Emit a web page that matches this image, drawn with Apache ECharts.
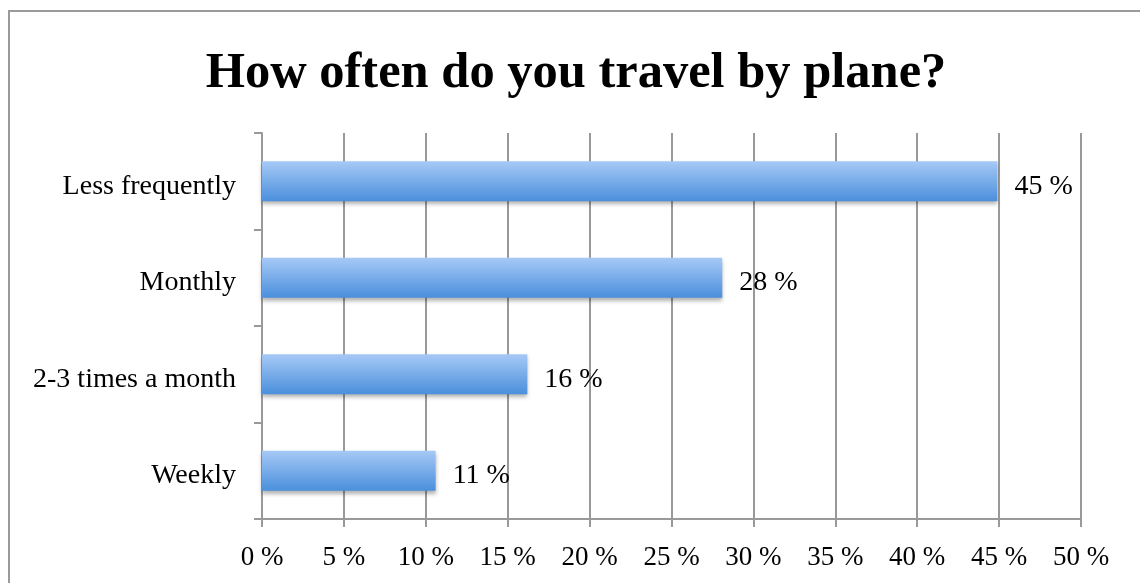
<!DOCTYPE html>
<html>
<head>
<meta charset="utf-8">
<script src="https://cdn.jsdelivr.net/npm/echarts@6/dist/echarts.min.js"></script>
<style>
html,body{margin:0;padding:0;background:#fff;}
#chart{width:1140px;height:583px;}
</style>
</head>
<body>
<div id="chart"></div>
<script>
var categories = ['Less frequently', 'Monthly', '2-3 times a month', 'Weekly'];
var values = [44.9, 28.1, 16.2, 10.6];
var xTicks = [0, 5, 10, 15, 20, 25, 30, 35, 40, 45, 50];
var titleText = 'How often do you travel by plane?';

var chart = echarts.init(document.getElementById('chart'));
var serif = '"Liberation Serif", "DejaVu Serif", serif';
chart.setOption({
  animation: false,
  backgroundColor: '#fff',
  graphic: [{
    type: 'rect',
    shape: { x: 9, y: 11, width: 1200, height: 700 },
    style: { fill: 'none', stroke: '#9a9a9a', lineWidth: 2 },
    z: -1
  }, {
    type: 'text',
    x: 576,
    y: 48,
    style: {
      text: titleText,
      textAlign: 'center',
      textVerticalAlign: 'top',
      font: 'bold 50.5px ' + serif,
      fill: '#000'
    }
  }],
  grid: { left: 262, right: 59, top: 133, bottom: 64, containLabel: false },
  xAxis: {
    type: 'value',
    min: xTicks[0], max: xTicks[xTicks.length - 1], interval: 5,
    axisLine: { show: true, lineStyle: { color: '#999', width: 2 } },
    axisTick: { show: true, length: 8, lineStyle: { color: '#999', width: 2 } },
    splitLine: { show: true, lineStyle: { color: '#999', width: 2 } },
    axisLabel: {
      margin: 25,
      fontFamily: serif, fontSize: 27, color: '#000',
      formatter: function (v) { return v + ' %'; }
    }
  },
  yAxis: {
    type: 'category',
    inverse: true,
    data: categories,
    axisLine: { show: true, lineStyle: { color: '#999', width: 2 } },
    axisTick: { show: true, length: 8, lineStyle: { color: '#999', width: 2 } },
    axisLabel: {
      margin: 26, fontFamily: serif, fontSize: 28, color: '#000',
      formatter: function (v) { return '{a|' + v + '}'; },
      rich: { a: { fontFamily: serif, fontSize: 28, color: '#000', padding: [10, 0, 0, 0] } }
    }
  },
  series: [{
    type: 'bar',
    data: values,
    barWidth: 40,
    itemStyle: {
      color: new echarts.graphic.LinearGradient(0, 0, 0, 1, [
        { offset: 0, color: '#a6c9f6' },
        { offset: 1, color: '#4b8fdc' }
      ]),
      shadowColor: 'rgba(0,0,0,0.3)',
      shadowBlur: 4,
      shadowOffsetY: 3
    },
    label: {
      show: true,
      position: 'right',
      distance: 17,
      offset: [0, 5],
      fontFamily: serif, fontSize: 28, color: '#000',
      formatter: function (p) { return Math.round(p.value) + ' %'; }
    }
  }]
});
</script>
</body>
</html>
